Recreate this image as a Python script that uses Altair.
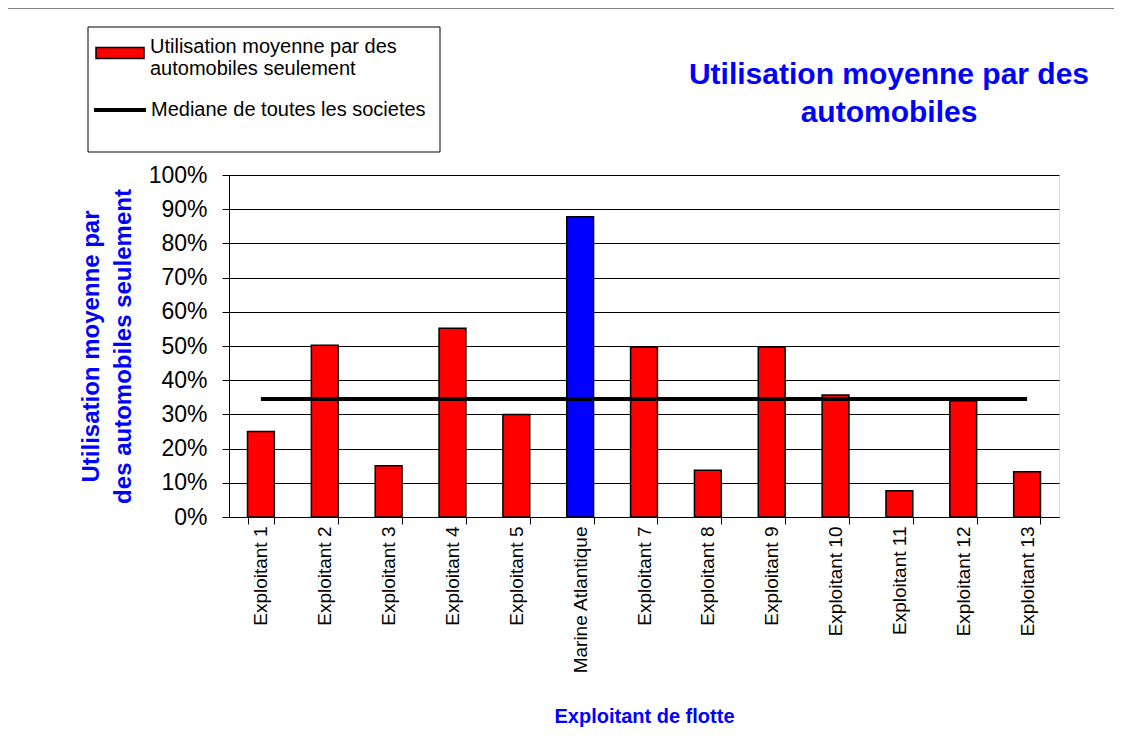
import altair as alt
import pandas as pd

categories = ["Exploitant 1", "Exploitant 2", "Exploitant 3", "Exploitant 4", "Exploitant 5",
              "Marine Atlantique", "Exploitant 7", "Exploitant 8", "Exploitant 9", "Exploitant 10",
              "Exploitant 11", "Exploitant 12", "Exploitant 13"]
values = [0.25, 0.502, 0.15, 0.552, 0.30, 0.878, 0.497, 0.137, 0.497, 0.357, 0.077, 0.340, 0.132]
median_value = 0.345

bar_label = "Utilisation moyenne par des automobiles seulement"
median_label = "Mediane de toutes les societes"
highlight = "Marine Atlantique"

title_lines = ["Utilisation moyenne par des", "automobiles"]
y_title_lines = ["Utilisation moyenne par", "des automobiles seulement"]
x_title = "Exploitant de flotte"
y_ticks = [0, 0.1, 0.2, 0.3, 0.4, 0.5, 0.6, 0.7, 0.8, 0.9, 1.0]

FONT = "Liberation Sans"
BLUE = "#0000FF"

W, H = 830, 342

df = pd.DataFrame({
    "cat": categories,
    "val": values,
    "serie": [highlight if c == highlight else bar_label for c in categories],
})
dm = pd.DataFrame({"cat": categories, "med": [median_value] * len(categories),
                   "serie2": [median_label] * len(categories)})
deco = pd.DataFrame({"k": [0]})

xaxis = alt.Axis(title=x_title, labelAngle=270, labelFontSize=19, labelFont=FONT,
                 labelColor="black", labelPadding=2, labelLimit=300,
                 ticks=True, tickBand="extent", tickSize=7, tickColor="black", tickWidth=1,
                 domainColor="black", titleFont=FONT, titleFontSize=20,
                 titleFontWeight="bold", titleColor=BLUE, titleX=W / 2, titleY=199,
                 titleBaseline="middle", titleAnchor="middle")
xscale = alt.Scale(paddingInner=0.58, paddingOuter=0.29)
xenc = alt.X("cat:N", sort=categories, scale=xscale, axis=xaxis)

yaxis = alt.Axis(title=y_title_lines, format="%", values=y_ticks, tickCount=11,
                 labelFontSize=23, labelFont=FONT, labelColor="black", labelPadding=15,
                 labelOverlap=False,
                 tickColor="black", tickSize=7, domainColor="black",
                 grid=True, gridColor="black", gridWidth=1,
                 titleFont=FONT, titleFontSize=24, titleFontWeight="bold", titleColor=BLUE,
                 titleLineHeight=32, titleX=-138, titleY=171, titleAngle=270,
                 titleBaseline="middle", titleAlign="center")
yscale = alt.Scale(domain=[0, 1], nice=False)

frame = alt.Chart(deco).mark_rect(fill="white", fillOpacity=0, stroke="black", strokeWidth=1).encode(
    x=alt.value(-222), x2=alt.value(1100), y=alt.value(-167), y2=alt.value(700))
legbox = alt.Chart(deco).mark_rect(fill="white", stroke="black", strokeWidth=1).encode(
    x=alt.value(-141), x2=alt.value(211), y=alt.value(-148), y2=alt.value(-23))

bars = alt.Chart(df).mark_bar(stroke="black", strokeWidth=1.5).encode(
    x=xenc,
    y=alt.Y("val:Q", scale=yscale, axis=yaxis),
    fill=alt.Fill("serie:N", scale=alt.Scale(domain=[bar_label, highlight], range=["#FF0000", BLUE]),
                  legend=alt.Legend(values=[bar_label], title=None, orient="none",
                                    legendX=-134, legendY=-147,
                                    symbolType="M-1,-0.23H1V0.23H-1Z", symbolSize=2304,
                                    symbolStrokeColor="black", symbolStrokeWidth=1.5,
                                    symbolFillColor="#FF0000",
                                    labelFont=FONT, labelFontSize=20, labelLimit=400,
                                    labelColor="black", labelOffset=5,
                                    labelExpr="datum.label == '" + bar_label + "' ? ['Utilisation moyenne par des', 'automobiles seulement'] : datum.label",
                                    labelBaseline="alphabetic", padding=0)),
)

line = alt.Chart(dm).mark_line(strokeWidth=4).encode(
    x=xenc,
    y=alt.Y("med:Q", scale=yscale, axis=yaxis),
    stroke=alt.Stroke("serie2:N", scale=alt.Scale(domain=[median_label], range=["black"]),
                      legend=alt.Legend(title=None, orient="none", legendX=-137, legendY=-93,
                                        symbolType="stroke", symbolSize=2704, symbolStrokeWidth=4,
                                        labelFont=FONT, labelFontSize=20, labelLimit=400,
                                        labelColor="black", labelOffset=3, padding=0)),
)

chart = alt.layer(frame, legbox, bars, line).resolve_scale(
    fill="independent", stroke="independent").properties(
    width=W, height=H,
    autosize=alt.AutoSizeParams(type="none"),
    padding={"left": 221, "top": 167, "right": 55, "bottom": 225},
    title=alt.TitleParams(text=title_lines, font=FONT, fontSize=30, fontWeight="bold", color=BLUE,
                          anchor="middle", dx=245, offset=0, dy=120, baseline="top", lineHeight=38),
).configure_view(fill="#C0C0C0", stroke="#808080", strokeWidth=1).configure(background="white")

chart.save("out.html", embed_options={"renderer": "svg", "actions": False})
